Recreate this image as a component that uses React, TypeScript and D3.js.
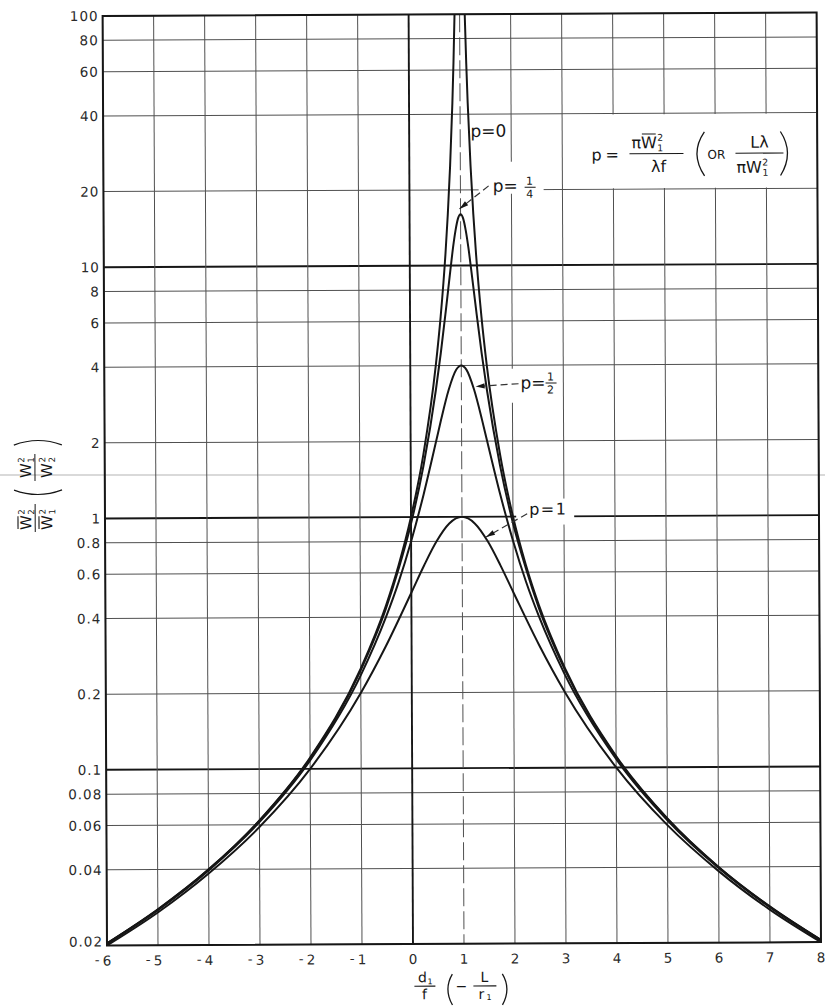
import React from "react";
import * as d3 from "d3";

// Horizontal axis: d1/f
const xTicks = [-6, -5, -4, -3, -2, -1, 0, 1, 2, 3, 4, 5, 6, 7, 8];
// Vertical axis: spot-size ratio, logarithmic grid
const yTicks = [0.02, 0.04, 0.06, 0.08, 0.1, 0.2, 0.4, 0.6, 0.8, 1, 2, 4, 6, 8, 10, 20, 40, 60, 80, 100];
const yTickLabels = ["0.02", "0.04", "0.06", "0.08", "0.1", "0.2", "0.4", "0.6", "0.8", "1", "2", "4", "6", "8", "10", "20", "40", "60", "80", "100"];
const majorY = [0.1, 1, 10];
const majorX = [0];
const axisX = [1];

type Pt = [number, number];

// p = 0 (two branches either side of d1/f = 1)
const curveP0Left: Pt[] = [
  [-6, 0.0204], [-5, 0.0278], [-4, 0.04], [-3, 0.0625], [-2, 0.111], [-1, 0.25],
  [-0.5, 0.444], [-0.25, 0.64], [0, 1], [0.25, 1.78], [0.5, 4], [0.6, 6.25], [0.7, 11.1],
  [0.75, 16], [0.8, 25], [0.85, 44.4], [0.875, 64], [0.9, 100],
];
const curveP0Right: Pt[] = [
  [1.1, 100], [1.125, 64], [1.15, 44.4], [1.2, 25], [1.25, 16], [1.3, 11.1], [1.4, 6.25],
  [1.5, 4], [1.75, 1.78], [2, 1], [2.25, 0.64], [2.5, 0.444], [3, 0.25], [4, 0.111],
  [5, 0.0625], [6, 0.04], [7, 0.0278], [8, 0.0204],
];
// p = 1/4
const curveQuarter: Pt[] = [
  [-6, 0.0204], [-5, 0.0277], [-4, 0.0399], [-3, 0.0623], [-2, 0.110], [-1, 0.246],
  [-0.5, 0.432], [-0.25, 0.62], [0, 0.941], [0.25, 1.6], [0.5, 3.2], [0.6, 4.49], [0.7, 6.56],
  [0.8, 9.76], [0.85, 11.8], [0.9, 13.8], [0.95, 15.4], [1, 16], [1.05, 15.4], [1.1, 13.8],
  [1.15, 11.8], [1.2, 9.76], [1.3, 6.56], [1.4, 4.49], [1.5, 3.2], [1.75, 1.6], [2, 0.941],
  [2.25, 0.62], [2.5, 0.432], [3, 0.246], [4, 0.110], [5, 0.0623], [6, 0.0399], [7, 0.0277], [8, 0.0204],
];
// p = 1/2
const curveHalf: Pt[] = [
  [-6, 0.0203], [-5, 0.0276], [-4, 0.0396], [-3, 0.0615], [-2, 0.108], [-1, 0.235],
  [-0.5, 0.4], [-0.25, 0.55], [0, 0.8], [0.25, 1.23], [0.5, 2], [0.6, 2.44], [0.75, 3.2],
  [0.9, 3.85], [1, 4], [1.1, 3.85], [1.25, 3.2], [1.4, 2.44], [1.5, 2], [1.75, 1.23], [2, 0.8],
  [2.25, 0.55], [2.5, 0.4], [3, 0.235], [4, 0.108], [5, 0.0615], [6, 0.0396], [7, 0.0276], [8, 0.0203],
];
// p = 1
const curveOne: Pt[] = [
  [-6, 0.02], [-5, 0.027], [-4, 0.0385], [-3, 0.0588], [-2, 0.1], [-1, 0.2], [-0.5, 0.308],
  [0, 0.5], [0.25, 0.64], [0.5, 0.8], [0.75, 0.941], [1, 1], [1.25, 0.941], [1.5, 0.8],
  [1.75, 0.64], [2, 0.5], [2.5, 0.308], [3, 0.2], [4, 0.1], [5, 0.0588], [6, 0.0385], [7, 0.027], [8, 0.02],
];

const W = 825;
const H = 1006;
const L = 104.8, R = 818.8, T = 14.2, B = 943.8;
const FONT = "'DejaVu Sans', 'Liberation Sans', sans-serif";
const INK = "#161616";
const GRID = "#505050";

function arrowHead(tip: Pt, from: Pt, len = 9, half = 2.6) {
  const dx = tip[0] - from[0];
  const dy = tip[1] - from[1];
  const d = Math.hypot(dx, dy);
  const ux = dx / d, uy = dy / d;
  const bx = tip[0] - ux * len, by = tip[1] - uy * len;
  return `M${tip[0]},${tip[1]} L${bx - uy * half},${by + ux * half} L${bx + uy * half},${by - ux * half} Z`;
}

function Leader({ from, tip }: { from: Pt; tip: Pt }) {
  return (
    <g>
      <line x1={from[0]} y1={from[1]} x2={tip[0]} y2={tip[1]} stroke="#333" strokeWidth={1.2} strokeDasharray="7 4" />
      <path d={arrowHead(tip, from)} fill={INK} />
    </g>
  );
}

// W with stacked subscript / superscript and optional overbar
function WSym({ x, y, sub, sup, bar, size = 15 }: { x: number; y: number; sub: string; sup: string; bar?: boolean; size?: number }) {
  const w = size * 0.99;
  const s = size * 0.58;
  return (
    <g>
      <text x={x} y={y} fontSize={size}>W</text>
      {bar && <line x1={x + 1} x2={x + w - 1} y1={y - size * 0.88} y2={y - size * 0.88} stroke={INK} strokeWidth={1.1} />}
      <text x={x + w + 0.5} y={y - size * 0.45} fontSize={s}>{sup}</text>
      <text x={x + w + 0.5} y={y + size * 0.2} fontSize={s}>{sub}</text>
    </g>
  );
}

export default function App() {
  const x = d3.scaleLinear().domain([-6, 8]).range([L, R]);
  const y = d3.scaleLog().domain([0.02, 100]).range([B, T]);
  const line = d3
    .line<Pt>()
    .x((d) => x(d[0]))
    .y((d) => y(d[1]))
    .curve(d3.curveMonotoneX);

  const cx = (L + R) / 2;
  const cy = (T + B) / 2;

  const tipQuarter: Pt = [x(0.98), y(16.8)];
  const tipHalf: Pt = [x(1.28), y(3.3)];
  const tipOne: Pt = [x(1.47), y(0.83)];

  return (
    <svg width={W} height={H} viewBox={`0 0 ${W} ${H}`} style={{ position: "absolute", left: 0, top: 0, background: "#fff" }} fontFamily={FONT}>
      <defs>
        <clipPath id="plot">
          <rect x={L} y={T} width={R - L} height={B - T} />
        </clipPath>
      </defs>
      <rect x={0} y={0} width={W} height={H} fill="#fff" />
      <line x1={0} x2={W} y1={475} y2={475} stroke="#aaa" strokeWidth={0.9} />
      <g transform={`rotate(-0.27 ${cx} ${cy})`} fill={INK}>
        {/* grid */}
        {yTicks.map((v) => (
          <line
            key={"gy" + v}
            x1={L}
            x2={R}
            y1={y(v)}
            y2={y(v)}
            stroke={majorY.includes(v) ? INK : GRID}
            strokeWidth={majorY.includes(v) ? 1.9 : 1}
          />
        ))}
        {xTicks.map((v) => (
          <line
            key={"gx" + v}
            x1={x(v)}
            x2={x(v)}
            y1={T}
            y2={B}
            stroke={majorX.includes(v) ? INK : GRID}
            strokeWidth={majorX.includes(v) ? 1.9 : 1}
            strokeDasharray={axisX.includes(v) ? "18 5" : undefined}
          />
        ))}

        {/* label backgrounds */}
        <rect x={x(3) + 1} y={y(40) + 1} width={R - x(3) - 2} height={y(20) - y(40) - 2} fill="#fff" />
        <rect x={480} y={162} width={65} height={32} fill="#fff" />
        <rect x={506} y={369} width={56} height={34} fill="#fff" />
        <rect x={516} y={499} width={58} height={26} fill="#fff" />

        {/* curves */}
        <g clipPath="url(#plot)" fill="none" stroke={INK} strokeWidth={2} strokeLinejoin="round">
          <path d={line(curveP0Left) ?? ""} />
          <path d={line(curveP0Right) ?? ""} />
          <path d={line(curveQuarter) ?? ""} />
          <path d={line(curveHalf) ?? ""} />
          <path d={line(curveOne) ?? ""} />
        </g>

        {/* frame */}
        <rect x={L} y={T} width={R - L} height={B - T} fill="none" stroke={INK} strokeWidth={2} />

        {/* tick labels */}
        <g fontSize={13.5} fill="#2a2a2a" letterSpacing={1}>
          {yTicks.map((v, i) => (
            <text key={"ty" + v} x={L - 4} y={y(v) + (i === 0 ? 1 : 5)} textAnchor="end">
              {yTickLabels[i]}
            </text>
          ))}
          {xTicks.map((v) => (
            <g key={"tx" + v}>
              <text x={x(v) + 0.5} y={B + 20} textAnchor="middle">
                {String(Math.abs(v))}
              </text>
              {v < 0 && (
                <text x={x(v) - 6.5} y={B + 19} textAnchor="end">
                  -
                </text>
              )}
            </g>
          ))}
        </g>

        {/* curve labels */}
        <g fontSize={17} fill={INK}>
          <text x={472} y={137}>p=0</text>

          <text x={494} y={192}>p=</text>
          <g fontSize={11} textAnchor="middle">
            <text x={531} y={185}>1</text>
            <text x={531} y={198}>4</text>
          </g>
          <line x1={526} x2={537} y1={187.5} y2={187.5} stroke={INK} strokeWidth={1} />

          <text x={521} y={389}>p=</text>
          <g fontSize={11} textAnchor="middle">
            <text x={551} y={381}>1</text>
            <text x={551} y={394}>2</text>
          </g>
          <line x1={546} x2={557} y1={383.5} y2={383.5} stroke={INK} strokeWidth={1} />

          <text x={529} y={515} fontSize={16} letterSpacing={1.5}>p=1</text>
        </g>
        <Leader from={[490, 186]} tip={tipQuarter} />
        <Leader from={[519, 384]} tip={tipHalf} />
        <Leader from={[527, 514]} tip={tipOne} />

        {/* definition of p */}
        <g fontSize={16} fill={INK}>
          <text x={593} y={161}>p</text>
          <text x={607} y={161}>=</text>
          <text x={633} y={149}>π</text>
          <WSym x={642.5} y={149} sub="1" sup="2" bar size={16} />
          <line x1={631} x2={685} y1={154.5} y2={154.5} stroke={INK} strokeWidth={1.1} />
          <text x={660} y={173} textAnchor="middle">λf</text>
          <path d="M706,133 Q691,154.5 706,177" fill="none" stroke={INK} strokeWidth={1.3} />
          <text x={709} y={160} fontSize={12}>OR</text>
          <text x={761} y={149} textAnchor="middle">Lλ</text>
          <line x1={737} x2={785} y1={154.5} y2={154.5} stroke={INK} strokeWidth={1.1} />
          <text x={738} y={174}>π</text>
          <WSym x={747.5} y={174} sub="1" sup="2" size={16} />
          <path d="M782,133 Q796,154.5 782,177" fill="none" stroke={INK} strokeWidth={1.3} />
        </g>

        {/* vertical axis title */}
        <g transform="translate(35 484) rotate(-90)" fontSize={15} fill={INK}>
          <WSym x={-44} y={-4} sub="2" sup="2" bar size={15} />
          <line x1={-46} x2={-18} y1={0} y2={0} stroke={INK} strokeWidth={1} />
          <WSym x={-44} y={17} sub="1" sup="2" bar size={15} />
          <path d="M-4,-21 Q-13,3 -4,27" fill="none" stroke={INK} strokeWidth={1.2} />
          <WSym x={8} y={-4} sub="1" sup="2" size={15} />
          <line x1={5} x2={32} y1={0} y2={0} stroke={INK} strokeWidth={1} />
          <WSym x={8} y={17} sub="2" sup="2" size={15} />
          <path d="M41,-21 Q50,3 41,27" fill="none" stroke={INK} strokeWidth={1.2} />
        </g>

        {/* horizontal axis title */}
        <g fontSize={14} fill={INK}>
          <text x={420} y={982} textAnchor="middle">d</text>
          <text x={425} y={984} fontSize={8}>1</text>
          <line x1={412} x2={433} y1={986} y2={986} stroke={INK} strokeWidth={1.1} />
          <text x={422} y={999} textAnchor="middle">f</text>
          <path d="M450,974 Q441,989 450,1005" fill="none" stroke={INK} strokeWidth={1.3} />
          <text x={453} y={991}>−</text>
          <text x={482} y={982} textAnchor="middle">L</text>
          <line x1={471} x2={494} y1={986} y2={986} stroke={INK} strokeWidth={1.1} />
          <text x={479} y={999} textAnchor="middle">r</text>
          <text x={484} y={1000} fontSize={8}>1</text>
          <path d="M500,974 Q509,989 500,1005" fill="none" stroke={INK} strokeWidth={1.3} />
        </g>
      </g>
    </svg>
  );
}
